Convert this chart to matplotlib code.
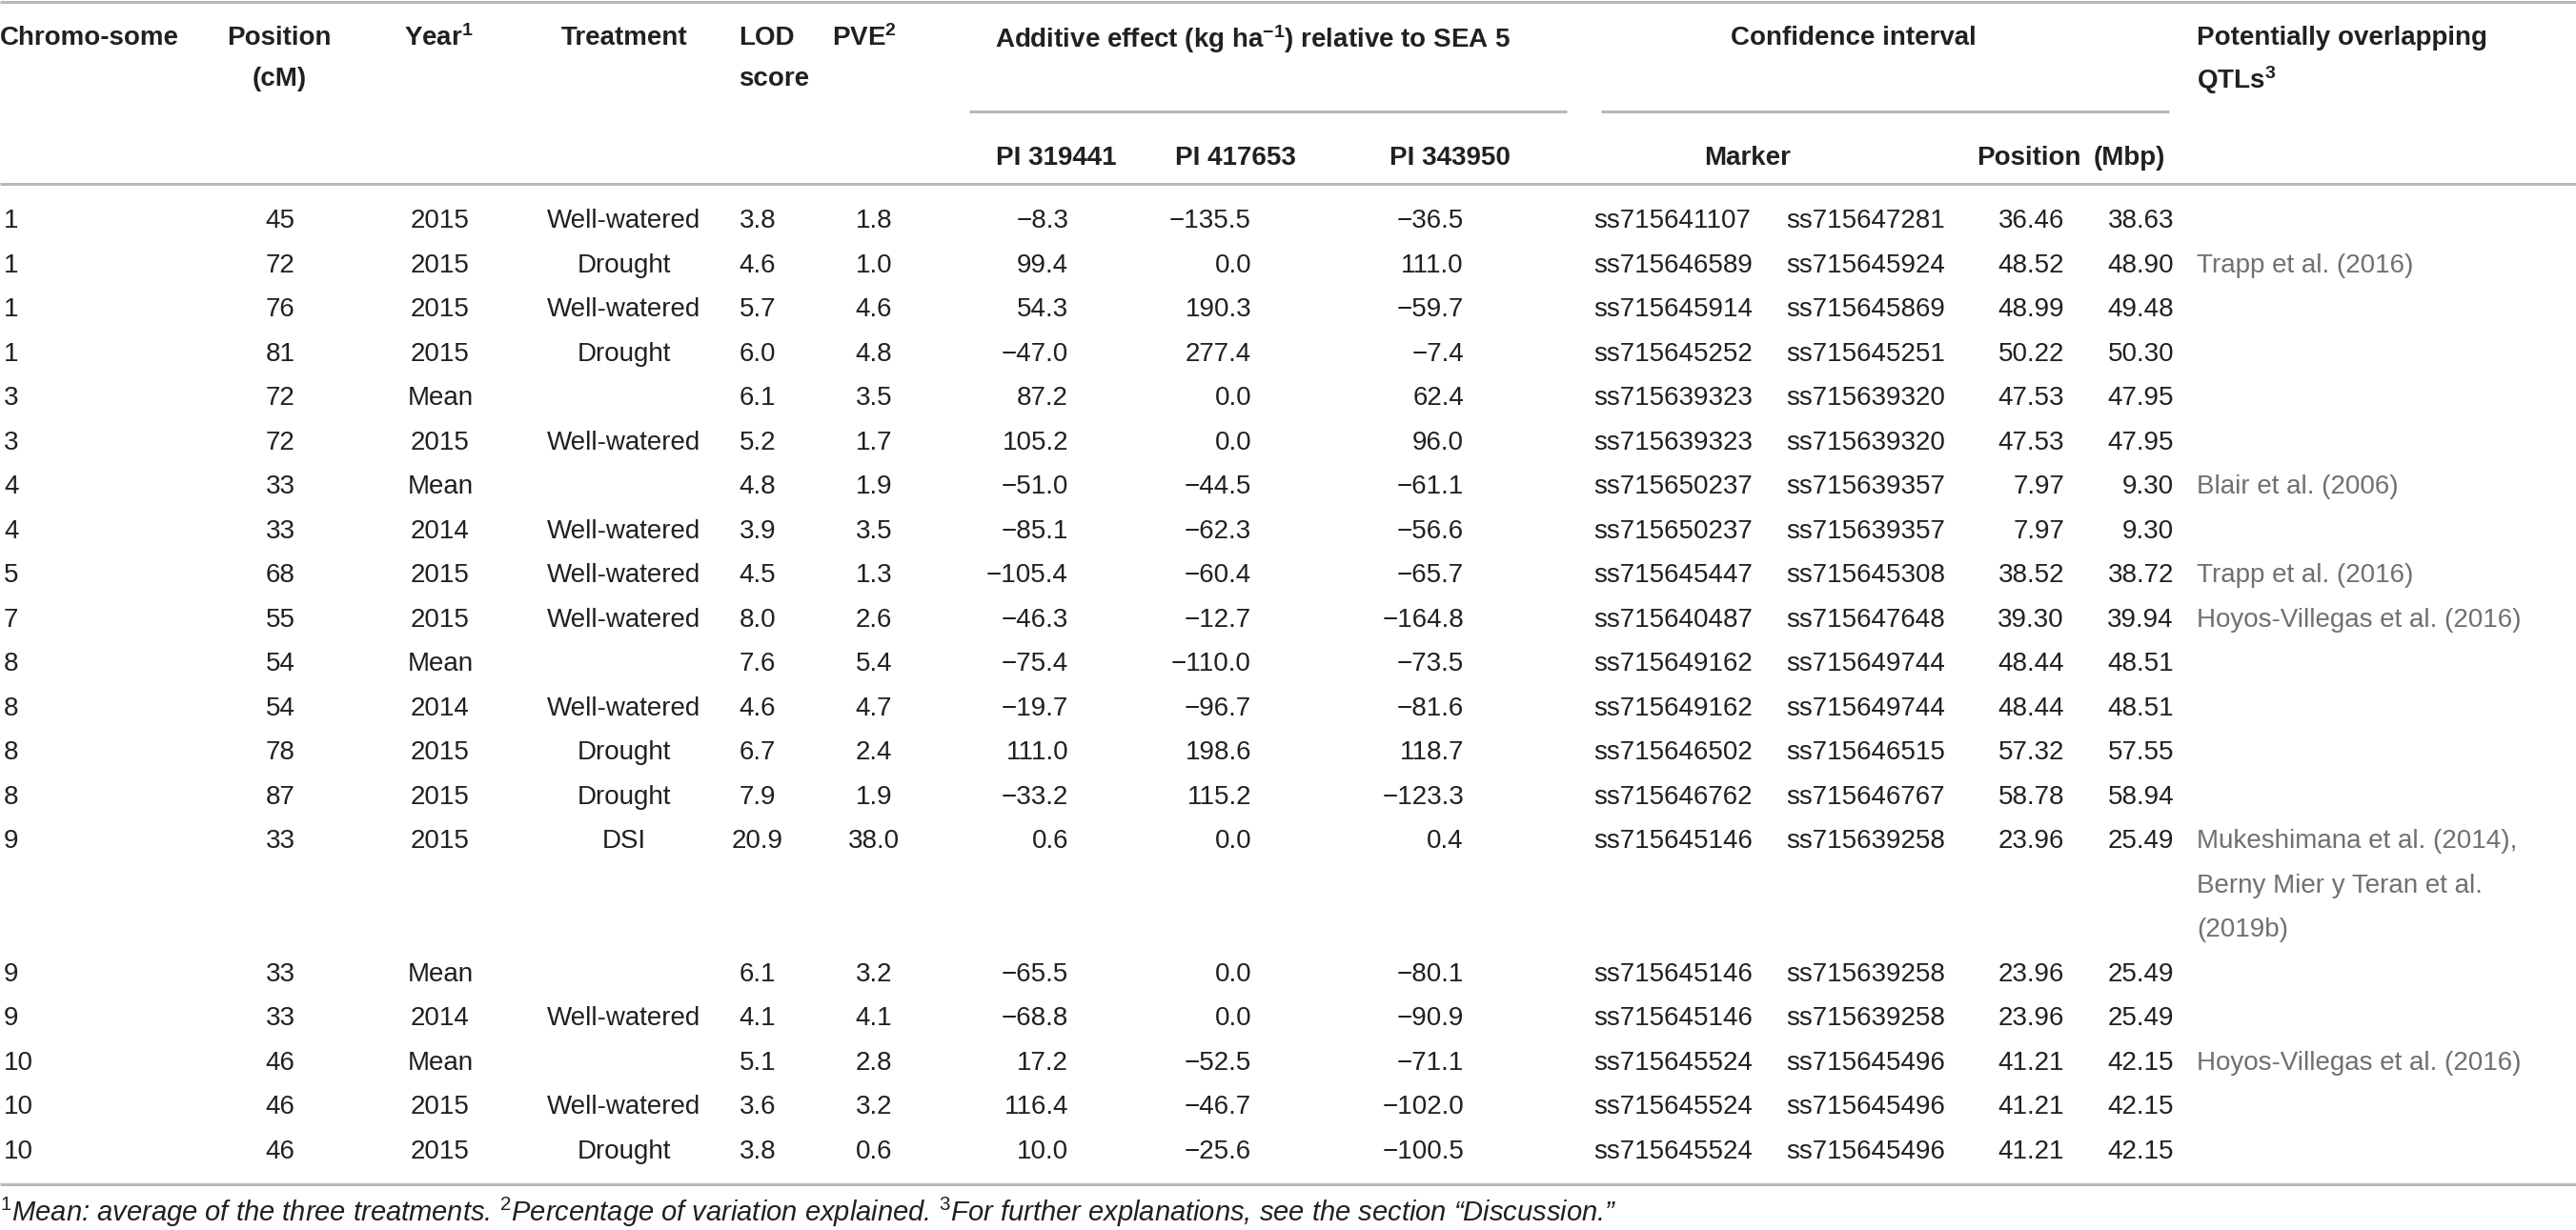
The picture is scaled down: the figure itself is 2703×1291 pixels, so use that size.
import matplotlib
matplotlib.use("Agg")
import matplotlib.pyplot as plt

plt.rcParams['font.family'] = ['Liberation Sans', 'DejaVu Sans']
plt.rcParams['mathtext.fontset'] = 'custom'
plt.rcParams['mathtext.rm'] = 'Liberation Sans'
plt.rcParams['mathtext.it'] = 'Liberation Sans:italic'
plt.rcParams['mathtext.bf'] = 'Liberation Sans:bold'

# table data
chromosome = ["1", "1", "1", "1", "3", "3", "4", "4", "5", "7", "8", "8", "8", "8", "9", "9", "9", "10", "10", "10"]
position_cm = ["45", "72", "76", "81", "72", "72", "33", "33", "68", "55", "54", "54", "78", "87", "33", "33", "33", "46", "46", "46"]
year = ["2015", "2015", "2015", "2015", "Mean", "2015", "Mean", "2014", "2015", "2015", "Mean", "2014", "2015", "2015",
        "2015", "Mean", "2014", "Mean", "2015", "2015"]
treatment = ["Well-watered", "Drought", "Well-watered", "Drought", "", "Well-watered", "", "Well-watered", "Well-watered",
             "Well-watered", "", "Well-watered", "Drought", "Drought", "DSI", "", "Well-watered", "", "Well-watered", "Drought"]
lod = ["3.8", "4.6", "5.7", "6.0", "6.1", "5.2", "4.8", "3.9", "4.5", "8.0", "7.6", "4.6", "6.7", "7.9", "20.9", "6.1",
       "4.1", "5.1", "3.6", "3.8"]
pve = ["1.8", "1.0", "4.6", "4.8", "3.5", "1.7", "1.9", "3.5", "1.3", "2.6", "5.4", "4.7", "2.4", "1.9", "38.0", "3.2",
       "4.1", "2.8", "3.2", "0.6"]
pi_319441 = ["−8.3", "99.4", "54.3", "−47.0", "87.2", "105.2", "−51.0", "−85.1", "−105.4", "−46.3", "−75.4", "−19.7",
             "111.0", "−33.2", "0.6", "−65.5", "−68.8", "17.2", "116.4", "10.0"]
pi_417653 = ["−135.5", "0.0", "190.3", "277.4", "0.0", "0.0", "−44.5", "−62.3", "−60.4", "−12.7", "−110.0", "−96.7",
             "198.6", "115.2", "0.0", "0.0", "0.0", "−52.5", "−46.7", "−25.6"]
pi_343950 = ["−36.5", "111.0", "−59.7", "−7.4", "62.4", "96.0", "−61.1", "−56.6", "−65.7", "−164.8", "−73.5", "−81.6",
             "118.7", "−123.3", "0.4", "−80.1", "−90.9", "−71.1", "−102.0", "−100.5"]
marker_left = ["ss715641107", "ss715646589", "ss715645914", "ss715645252", "ss715639323", "ss715639323", "ss715650237",
               "ss715650237", "ss715645447", "ss715640487", "ss715649162", "ss715649162", "ss715646502", "ss715646762",
               "ss715645146", "ss715645146", "ss715645146", "ss715645524", "ss715645524", "ss715645524"]
marker_right = ["ss715647281", "ss715645924", "ss715645869", "ss715645251", "ss715639320", "ss715639320", "ss715639357",
                "ss715639357", "ss715645308", "ss715647648", "ss715649744", "ss715649744", "ss715646515", "ss715646767",
                "ss715639258", "ss715639258", "ss715639258", "ss715645496", "ss715645496", "ss715645496"]
ci_start = ["36.46", "48.52", "48.99", "50.22", "47.53", "47.53", "7.97", "7.97", "38.52", "39.30", "48.44", "48.44",
            "57.32", "58.78", "23.96", "23.96", "23.96", "41.21", "41.21", "41.21"]
ci_end = ["38.63", "48.90", "49.48", "50.30", "47.95", "47.95", "9.30", "9.30", "38.72", "39.94", "48.51", "48.51",
          "57.55", "58.94", "25.49", "25.49", "25.49", "42.15", "42.15", "42.15"]
qtls = ["", "Trapp et al. (2016)", "", "", "", "", "Blair et al. (2006)", "", "Trapp et al. (2016)",
        "Hoyos-Villegas et al. (2016)", "", "", "", "",
        "Mukeshimana et al. (2014),\nBerny Mier y Teran et al.\n(2019b)", "", "", "Hoyos-Villegas et al. (2016)", "", ""]

footnote = (r"$^{1}$Mean: average of the three treatments. $^{2}$Percentage of variation explained. "
            r"$^{3}$For further explanations, see the section “Discussion.”")

W, H = 2703, 1291
fig = plt.figure(figsize=(W / 100, H / 100), dpi=100)
ax = fig.add_axes([0, 0, 1, 1])
ax.set_xlim(0, W)
ax.set_ylim(H, 0)
ax.axis("off")

fs = 20
ink = "#231f20"
grey_txt = "#707070"
rule = "#b8b8b8"

# rules
for y in (2, 193, 1243):
    ax.plot([0, W], [y, y], color=rule, lw=2.2, solid_capstyle="butt")
ax.plot([1017, 1644], [117, 117], color=rule, lw=2.2, solid_capstyle="butt")
ax.plot([1680, 2276], [117, 117], color=rule, lw=2.2, solid_capstyle="butt")


def head(x, y, s, ha="left"):
    ax.text(x, y, s, ha=ha, va="center_baseline", fontsize=fs, fontweight="bold", color=ink)


h1, h2, h3 = 37, 80, 163
head(0, h1, "Chromo-some")
head(293, h1, "Position", "center")
head(293, h2, "(cM)", "center")
head(460, h1, r"Year$^{\mathbf{1}}$", "center")
head(655, h1, "Treatment", "center")
head(775, h1, "LOD")
head(775, h2, "score")
head(873, h1, r"PVE$^{\mathbf{2}}$")
head(1044, h1, r"Additive effect (kg ha$^{\mathbf{-1}}$) relative to SEA 5")
head(1945, h1, "Confidence interval", "center")
head(2305, h1, "Potentially overlapping")
head(2305, h2, r"QTLs$^{\mathbf{3}}$")
head(1108, h3, "PI 319441", "center")
head(1296, h3, "PI 417653", "center")
head(1521, h3, "PI 343950", "center")
head(1834, h3, "Marker", "center")
head(2074, h3, "Position")
head(2197, h3, "(Mbp)")

# body
columns = [
    (chromosome, 4, "left"),
    (position_cm, 294, "center"),
    (year, 462, "center"),
    (treatment, 655, "center"),
    (lod, 795, "center"),
    (pve, 917, "center"),
    (pi_319441, 1121, "right"),
    (pi_417653, 1313, "right"),
    (pi_343950, 1536, "right"),
    (marker_left, 1672, "left"),
    (marker_right, 1874, "left"),
    (ci_start, 2166, "right"),
    (ci_end, 2281, "right"),
]

y0, step = 229, 46.52
slot = 0
for i in range(len(chromosome)):
    y = y0 + slot * step
    for values, x, ha in columns:
        ax.text(x, y, values[i], ha=ha, va="center_baseline", fontsize=fs, color=ink)
    lines = qtls[i].split("\n") if qtls[i] else [""]
    for k, line in enumerate(lines):
        ax.text(2305, y + k * step, line, ha="left", va="center_baseline", fontsize=fs, color=grey_txt)
    slot += len(lines)

ax.text(0, 1282, footnote, ha="left", va="baseline", fontsize=21, style="italic", color=ink)

fig.savefig("out.png", dpi=100)
